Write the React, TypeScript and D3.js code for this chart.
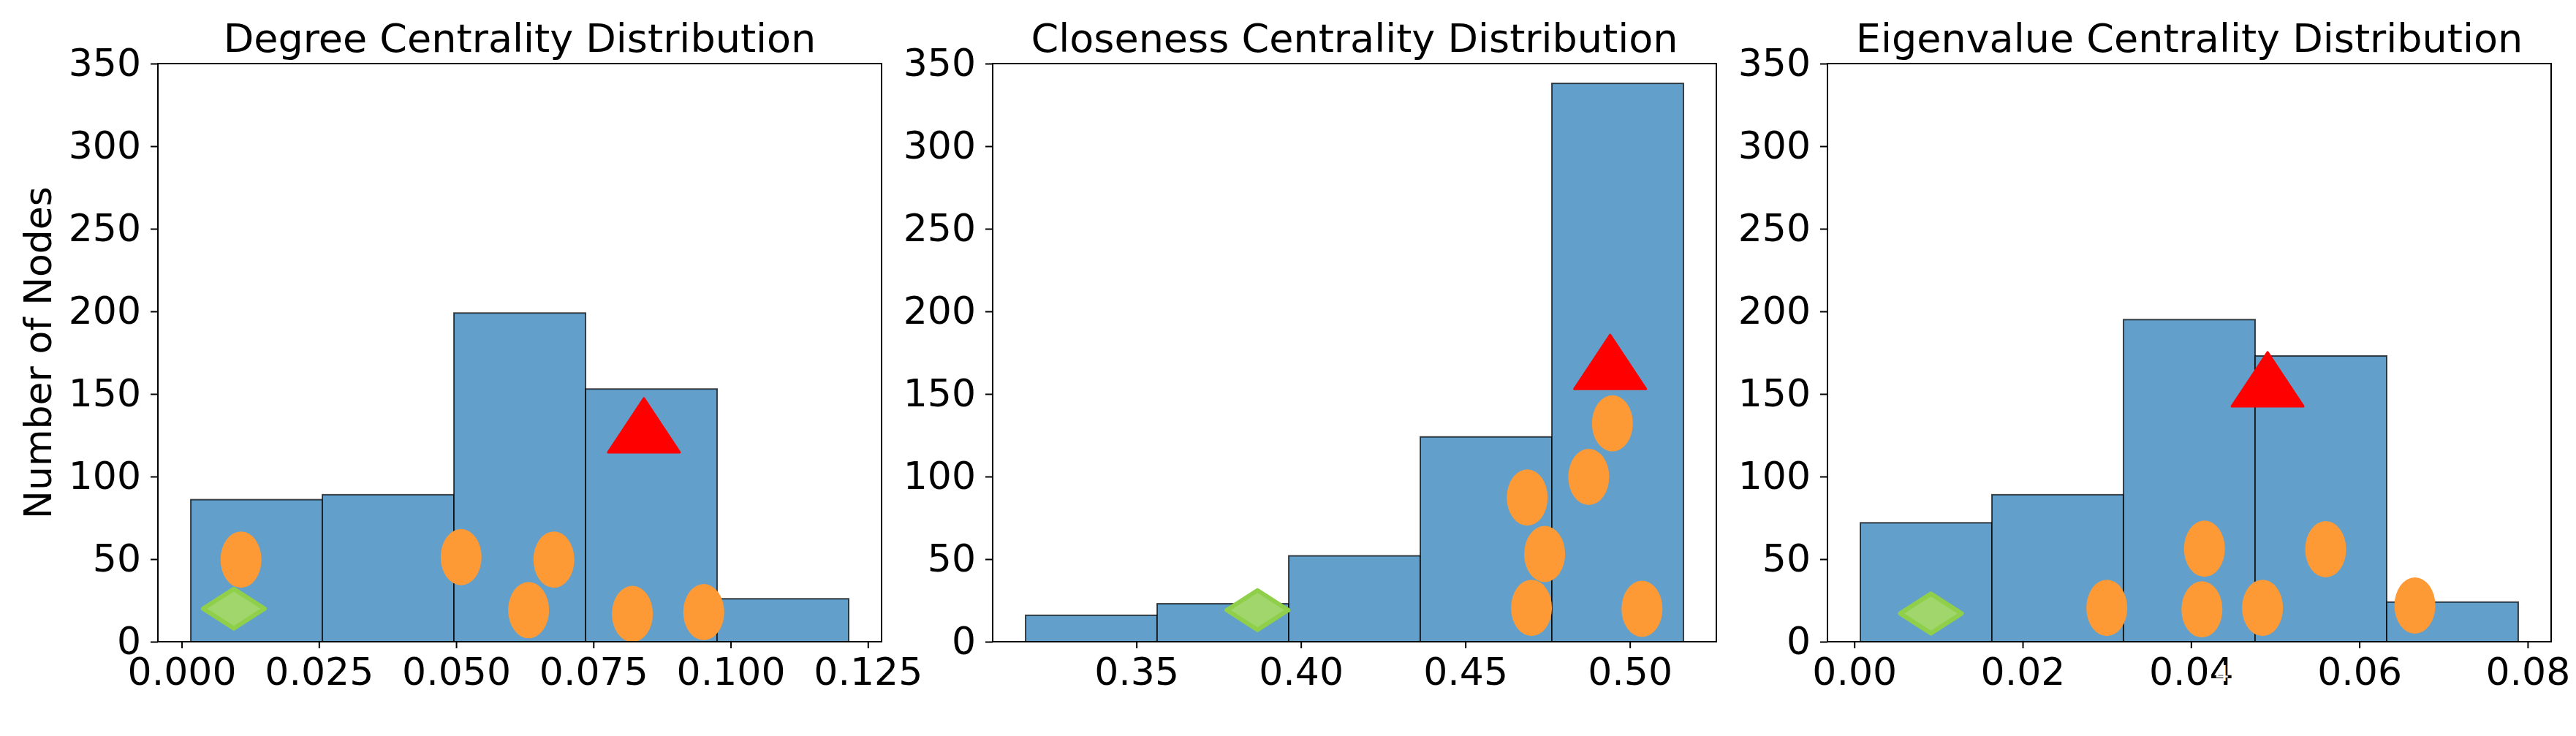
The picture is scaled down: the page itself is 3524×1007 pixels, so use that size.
import React, { useEffect, useRef } from "react";
import * as d3 from "d3";

const yTicks = [0, 50, 100, 150, 200, 250, 300, 350];

// Degree centrality
const degreeEdges = [0.00166, 0.02563, 0.0496, 0.07357, 0.09754, 0.1215];
const degreeCounts = [86, 89, 199, 153, 26];
const degreeTicks = [0, 0.025, 0.05, 0.075, 0.1, 0.125];
const degreeOrangeX = [0.0108, 0.0509, 0.0678, 0.0632, 0.0821, 0.0951];
const degreeOrangeY = [49.7, 51.2, 49.7, 19.1, 16.8, 17.9];
const degreeTriangle = [0.0842, 131];
const degreeDiamond = [0.0095, 20];

// Closeness centrality
const closenessEdges = [0.3163, 0.3563, 0.3963, 0.4363, 0.4763, 0.5163];
const closenessCounts = [16, 23, 52, 124, 338];
const closenessTicks = [0.35, 0.4, 0.45, 0.5];
const closenessOrangeX = [0.4688, 0.4875, 0.4947, 0.4741, 0.4701, 0.5037];
const closenessOrangeY = [87.3, 99.8, 132.2, 53.1, 20.5, 19.9];
const closenessTriangle = [0.494, 169.4];
const closenessDiamond = [0.3868, 19.1];

// Eigenvalue centrality
const eigenEdges = [0.00072, 0.01635, 0.03198, 0.04762, 0.06325, 0.07888];
const eigenCounts = [72, 89, 195, 173, 24];
const eigenTicks = [0, 0.02, 0.04, 0.06, 0.08];
const eigenOrangeX = [0.03, 0.0416, 0.0413, 0.0485, 0.056, 0.0666];
const eigenOrangeY = [20.5, 56.3, 19.6, 20.5, 56.0, 21.9];
const eigenTriangle = [0.0491, 158.9];
const eigenDiamond = [0.0091, 17.1];

const panels = [
    {
        title: "Degree Centrality Distribution",
        edges: degreeEdges,
        counts: degreeCounts,
        ticks: degreeTicks,
        fmt: ".3f",
        ox: degreeOrangeX,
        oy: degreeOrangeY,
        tri: degreeTriangle,
        dia: degreeDiamond,
        left: 216,
    },
    {
        title: "Closeness Centrality Distribution",
        edges: closenessEdges,
        counts: closenessCounts,
        ticks: closenessTicks,
        fmt: ".2f",
        ox: closenessOrangeX,
        oy: closenessOrangeY,
        tri: closenessTriangle,
        dia: closenessDiamond,
        left: 1358,
    },
    {
        title: "Eigenvalue Centrality Distribution",
        edges: eigenEdges,
        counts: eigenCounts,
        ticks: eigenTicks,
        fmt: ".2f",
        ox: eigenOrangeX,
        oy: eigenOrangeY,
        tri: eigenTriangle,
        dia: eigenDiamond,
        left: 2500,
    },
];

const FONT = "DejaVu Sans, sans-serif";

const App: React.FC = () => {
    const svgRef = useRef<SVGSVGElement | null>(null);

    useEffect(() => {
        if (!svgRef.current) return;
        const svg = d3.select(svgRef.current);
        svg.selectAll("*").remove();

        const top = 87;
        const width = 990;
        const height = 791;

        const y = d3.scaleLinear().domain([0, 350]).range([height, 0]);

        panels.forEach((p, pi) => {
            const lo = p.edges[0];
            const hi = p.edges[p.edges.length - 1];
            const pad = (hi - lo) * 0.05;
            const x = d3.scaleLinear().domain([lo - pad, hi + pad]).range([0, width]);

            const g = svg.append("g").attr("transform", `translate(${p.left},${top})`);

            // histogram bars
            g.selectAll("rect.bar")
                .data(p.counts)
                .enter()
                .append("rect")
                .attr("class", "bar")
                .attr("x", (d, i) => x(p.edges[i]))
                .attr("width", (d, i) => x(p.edges[i + 1]) - x(p.edges[i]))
                .attr("y", (d) => y(d))
                .attr("height", (d) => height - y(d))
                .attr("fill", "#62a0cb")
                .attr("stroke", "#000")
                .attr("stroke-opacity", 0.7)
                .attr("stroke-width", 2);

            // orange nodes
            g.selectAll("ellipse.node")
                .data(p.ox)
                .enter()
                .append("ellipse")
                .attr("class", "node")
                .attr("cx", (d) => x(d))
                .attr("cy", (d, i) => y(p.oy[i]))
                .attr("rx", 28)
                .attr("ry", 38.5)
                .attr("fill", "#fd9a36");

            // green diamond
            const dx = x(p.dia[0]);
            const dy = y(p.dia[1]);
            g.append("path")
                .attr(
                    "d",
                    `M${dx - 42},${dy} L${dx},${dy - 27} L${dx + 42},${dy} L${dx},${dy + 27} Z`
                )
                .attr("fill", "#a0d66b")
                .attr("stroke", "#8fcf4a")
                .attr("stroke-width", 6)
                .attr("stroke-linejoin", "round");

            // red triangle
            const tx = x(p.tri[0]);
            const ty = y(p.tri[1]);
            g.append("path")
                .attr(
                    "d",
                    `M${tx},${ty - 37} L${tx + 49},${ty + 37} L${tx - 49},${ty + 37} Z`
                )
                .attr("fill", "#ff0000")
                .attr("stroke", "#ff0000")
                .attr("stroke-width", 3)
                .attr("stroke-linejoin", "round");

            // frame
            g.append("rect")
                .attr("width", width)
                .attr("height", height)
                .attr("fill", "none")
                .attr("stroke", "#000")
                .attr("stroke-width", 2);

            // axes
            const yAxis = g
                .append("g")
                .call(d3.axisLeft(y).tickValues(yTicks).tickSize(10).tickPadding(13));
            const xAxis = g
                .append("g")
                .attr("transform", `translate(0,${height})`)
                .call(
                    d3
                        .axisBottom(x)
                        .tickValues(p.ticks)
                        .tickFormat(d3.format(p.fmt))
                        .tickSize(9)
                        .tickPadding(13)
                );
            [yAxis, xAxis].forEach((ax) => {
                ax.select(".domain").remove();
                ax.selectAll("line").attr("stroke", "#000").attr("stroke-width", 2);
                ax.selectAll("text")
                    .attr("fill", "#000")
                    .style("font-family", FONT)
                    .style("font-size", "52px");
            });

            // title
            g.append("text")
                .attr("x", width / 2)
                .attr("y", -16)
                .attr("text-anchor", "middle")
                .style("font-family", FONT)
                .style("font-size", "54px")
                .text(p.title);

            if (pi === 0) {
                svg.append("text")
                    .attr("transform", `translate(52,${top + height / 2}) rotate(-90)`)
                    .attr("text-anchor", "middle")
                    .attr("dominant-baseline", "central")
                    .style("font-family", FONT)
                    .style("font-size", "52px")
                    .text("Number of Nodes");
            }

            if (pi === 2) {
                // small white glyph overlapping the 0.04 label
                g.append("text")
                    .attr("x", x(0.04) + 33)
                    .attr("y", height + 54)
                    .attr("fill", "#fff")
                    .style("font-family", FONT)
                    .style("font-size", "30px")
                    .text("4");
            }
        });
    }, []);

    return (
        <div style={{ position: "absolute", left: 0, top: 0, background: "#fff" }}>
            <svg ref={svgRef} width={3524} height={1007} style={{ display: "block" }}></svg>
        </div>
    );
};

export default App;
